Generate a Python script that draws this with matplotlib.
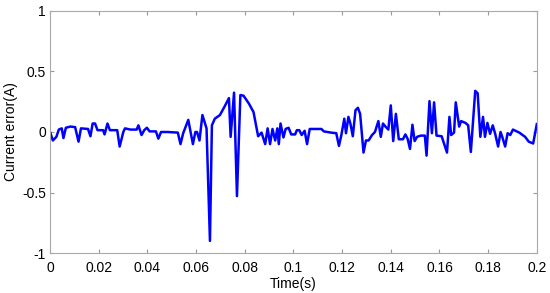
import matplotlib.pyplot as plt

# Current error trace
time_s = [0.0, 0.00116, 0.0026, 0.0036, 0.0048, 0.0055, 0.0065, 0.0084, 0.0103, 0.0117,
          0.0127, 0.0156, 0.0166, 0.0175, 0.0185, 0.0195, 0.0218, 0.0224, 0.0236, 0.0246,
          0.0276, 0.0286, 0.0301, 0.0308, 0.033, 0.0356, 0.0363, 0.0376, 0.0387, 0.0398,
          0.0409, 0.0435, 0.0445, 0.0456, 0.0482, 0.0525, 0.0536, 0.0547, 0.0568, 0.0587,
          0.0597, 0.0604, 0.0614, 0.0626, 0.0643, 0.0657, 0.0665, 0.0677, 0.0698, 0.0717,
          0.0735, 0.0742, 0.0756, 0.0768, 0.0782, 0.0795, 0.0817, 0.0836, 0.0855, 0.0869,
          0.0884, 0.0894, 0.0904, 0.0914, 0.0925, 0.0934, 0.094, 0.0947, 0.0959, 0.0968,
          0.098, 0.0991, 0.1007, 0.1014, 0.1024, 0.1034, 0.1046, 0.1056, 0.1067, 0.1115,
          0.1125, 0.1154, 0.1176, 0.1187, 0.1197, 0.1209, 0.1216, 0.1226, 0.1234, 0.1244,
          0.1255, 0.1265, 0.1274, 0.1288, 0.1298, 0.1309, 0.1323, 0.1335, 0.1349, 0.1359,
          0.1368, 0.1378, 0.139, 0.14, 0.141, 0.1421, 0.1433, 0.145, 0.146, 0.1469,
          0.1479, 0.1489, 0.1498, 0.1508, 0.1523, 0.154, 0.1547, 0.1559, 0.1569, 0.1578,
          0.1588, 0.1609, 0.1631, 0.1641, 0.1648, 0.166, 0.1667, 0.1681, 0.1689, 0.1707,
          0.1718, 0.1729, 0.1747, 0.1757, 0.1768, 0.1779, 0.1787, 0.1797, 0.1808, 0.1819,
          0.1829, 0.1841, 0.1851, 0.1858, 0.187, 0.188, 0.1891, 0.1902, 0.1928, 0.1952,
          0.1967, 0.1985, 0.2]
current_error = [0.0, -0.07, -0.04, 0.02, 0.03, -0.05, 0.035, 0.045, 0.04, -0.08,
                 0.03, 0.025, -0.035, 0.07, 0.07, 0.015, 0.015, -0.02, 0.07, 0.015,
                 0.015, -0.12, 0.0, 0.03, 0.02, 0.02, 0.055, -0.025, 0.015, 0.035,
                 0.005, 0.005, -0.055, 0.0, 0.0, -0.005, -0.10, -0.01, 0.10, -0.10,
                 0.0, 0.0, -0.07, 0.14, 0.03, -0.90, 0.055, 0.11, 0.14, 0.21,
                 0.28, -0.04, 0.325, -0.53, 0.305, 0.30, 0.235, 0.165, -0.035, -0.005,
                 -0.10, 0.03, -0.10, 0.025, -0.07, 0.03, -0.10, 0.07, -0.045, 0.025,
                 0.035, -0.02, -0.02, 0.015, 0.015, -0.025, 0.01, -0.10, 0.025, 0.025,
                 0.005, -0.005, -0.01, -0.115, -0.025, 0.11, -0.01, 0.125, 0.07, -0.035,
                 0.18, 0.20, 0.15, -0.17, -0.07, -0.07, -0.025, 0.0, 0.09, -0.04,
                 0.07, 0.045, 0.02, 0.22, -0.075, 0.15, -0.06, -0.06, -0.02, -0.055,
                 -0.14, 0.06, -0.075, -0.04, -0.03, -0.03, -0.195, 0.255, -0.01, 0.245,
                 -0.03, -0.035, -0.17, 0.125, -0.025, -0.005, 0.245, 0.045, 0.09, 0.075,
                 0.055, -0.165, 0.34, 0.32, -0.04, 0.125, -0.04, 0.075, -0.015, 0.055,
                 -0.015, -0.12, 0.0, -0.04, -0.12, -0.01, -0.025, 0.02, -0.005, -0.04,
                 -0.08, -0.095, 0.065]

x_ticks = [0, 0.02, 0.04, 0.06, 0.08, 0.1, 0.12, 0.14, 0.16, 0.18, 0.2]
x_labels = ['0', '0.02', '0.04', '0.06', '0.08', '0.1', '0.12', '0.14', '0.16', '0.18', '0.2']
y_ticks = [-1, -0.5, 0, 0.5, 1]
y_labels = ['-1', '-0.5', '0', '0.5', '1']

plt.rcParams['font.family'] = ['Liberation Sans', 'DejaVu Sans']

fig = plt.figure(figsize=(5.5, 2.93), dpi=100)
ax = fig.add_axes([0.091, 0.1365, 0.885, 0.826])

ax.plot(time_s, current_error, color='#0000ff', linewidth=1.8)

ax.set_xlim(0, 0.2)
ax.set_ylim(-1, 1)
ax.set_xticks(x_ticks)
ax.set_xticklabels(x_labels)
ax.set_yticks(y_ticks)
ax.set_yticklabels(y_labels)
ax.tick_params(direction='in', length=3, color='#999999', labelsize=10,
               top=True, right=True)
ax.tick_params(axis='x', pad=6)
ax.tick_params(axis='y', pad=3)
for spine in ax.spines.values():
    spine.set_color('#aaaaaa')
    spine.set_linewidth(0.8)

ax.set_xlabel('Time(s)', fontsize=10, labelpad=1)
ax.set_ylabel('Current error(A)', fontsize=10, labelpad=3)

fig.savefig('out.png', dpi=100)
